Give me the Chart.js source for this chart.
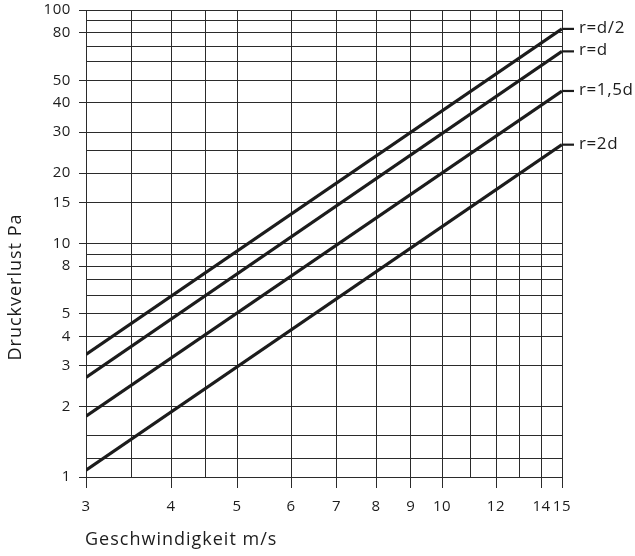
<!DOCTYPE html>
<html>
<head>
<meta charset="utf-8">
<script src="https://cdn.jsdelivr.net/npm/chart.js@4/dist/chart.umd.min.js"></script>
<style>
  html, body { margin: 0; padding: 0; background: #ffffff; }
  #wrap { position: relative; width: 635px; height: 556px; }
</style>
</head>
<body>
<div id="wrap"><canvas id="c" width="635" height="556"></canvas></div>
<script>
// ---- data ----
const velocities = [3, 15];                 // Geschwindigkeit m/s (line end points)
const rHalf      = [3.35, 83];              // r=d/2
const rOne       = [2.67, 66.5];            // r=d
const rOneHalf   = [1.82, 45];              // r=1,5d
const rTwo       = [1.07, 26.5];            // r=2d
const seriesNames = ['r=d/2', 'r=d', 'r=1,5d', 'r=2d'];

const xGridValues = [3, 3.5, 4, 4.5, 5, 6, 7, 8, 9, 10, 11, 12, 13, 14, 15];
const xTickLabels = [3, 4, 5, 6, 7, 8, 9, 10, 12, 14, 15];
const yGridValues = [1, 1.2, 1.5, 2, 3, 4, 5, 6, 7, 8, 9, 10, 15, 20, 25, 30, 40, 50, 60, 70, 80, 90, 100];
const yTickLabels = [1, 2, 3, 4, 5, 8, 10, 15, 20, 30, 40, 50, 80, 100];

const xTitle = 'Geschwindigkeit m/s';
const yTitle = 'Druckverlust Pa';

// ---- build chart ----
const FONT = '"Open Sans", "Noto Sans", sans-serif';
const INK = '#1c1c1c';
const GRID = '#2b2b2b';

const allSeries = [rHalf, rOne, rOneHalf, rTwo];
const datasets = allSeries.map((vals, i) => ({
  label: seriesNames[i],
  data: velocities.map((v, j) => ({ x: v, y: vals[j] })),
  borderColor: INK,
  borderWidth: 3.2,
  pointRadius: 0,
  fill: false,
  tension: 0
}));

const spacing = {
  id: 'spacing',
  beforeDraw(chart) { chart.ctx.letterSpacing = '0.6px'; }
};

const endLabels = {
  id: 'endLabels',
  afterDatasetsDraw(chart) {
    const ctx = chart.ctx;
    ctx.save();
    ctx.strokeStyle = INK;
    ctx.lineWidth = 2.2;
    ctx.fillStyle = INK;
    ctx.letterSpacing = '0.6px';
    ctx.font = '17px ' + FONT;
    ctx.textBaseline = 'middle';
    ctx.textAlign = 'left';
    chart.data.datasets.forEach((ds, i) => {
      const meta = chart.getDatasetMeta(i);
      const last = meta.data[meta.data.length - 1];
      ctx.beginPath();
      ctx.moveTo(last.x, last.y);
      ctx.lineTo(last.x + 12, last.y);
      ctx.stroke();
      ctx.fillText(ds.label, last.x + 17, last.y - 1);
    });
    // axis titles
    ctx.letterSpacing = '1px';
    ctx.font = '18px ' + FONT;
    ctx.textAlign = 'left';
    ctx.textBaseline = 'middle';
    ctx.fillText(xTitle, chart.chartArea.left - 1, 540);
    ctx.translate(16, 287);
    ctx.rotate(-Math.PI / 2);
    ctx.textAlign = 'center';
    ctx.fillText(yTitle, 0, 0);
    ctx.restore();
  }
};

new Chart(document.getElementById('c'), {
  type: 'line',
  data: { datasets },
  options: {
    responsive: false,
    animation: false,
    layout: { padding: { top: 10, right: 73, left: 0, bottom: 0 } },
    plugins: { legend: { display: false }, tooltip: { enabled: false } },
    scales: {
      x: {
        type: 'logarithmic',
        min: 3, max: 15,
        afterBuildTicks(scale) { scale.ticks = xGridValues.map(v => ({ value: v })); },
        afterFit(scale) { scale.height = 79; scale.paddingLeft = 0; scale.paddingRight = 0; },
        border: { color: GRID, width: 1 },
        grid: {
          color: GRID,
          lineWidth: 1,
          tickLength: 11,
          tickColor: c => (c.tick && xTickLabels.includes(c.tick.value)) ? GRID : 'rgba(0,0,0,0)'
        },
        ticks: {
          autoSkip: false,
          maxRotation: 0,
          padding: 10,
          color: INK,
          font: { family: FONT, size: 15 },
          callback: v => xTickLabels.includes(v) ? String(v) : ''
        }
      },
      y: {
        type: 'logarithmic',
        min: 1, max: 100,
        afterBuildTicks(scale) { scale.ticks = yGridValues.map(v => ({ value: v })); },
        afterFit(scale) { scale.width = 86; scale.paddingTop = 0; scale.paddingBottom = 0; },
        border: { color: GRID, width: 1 },
        grid: {
          color: GRID,
          lineWidth: 1,
          tickLength: 7,
          tickColor: c => (c.tick && yTickLabels.includes(c.tick.value)) ? GRID : 'rgba(0,0,0,0)'
        },
        ticks: {
          autoSkip: false,
          padding: 8,
          color: INK,
          font: { family: FONT, size: 15 },
          callback: v => yTickLabels.includes(v) ? String(v) : ''
        }
      }
    }
  },
  plugins: [spacing, endLabels]
});
</script>
</body>
</html>
